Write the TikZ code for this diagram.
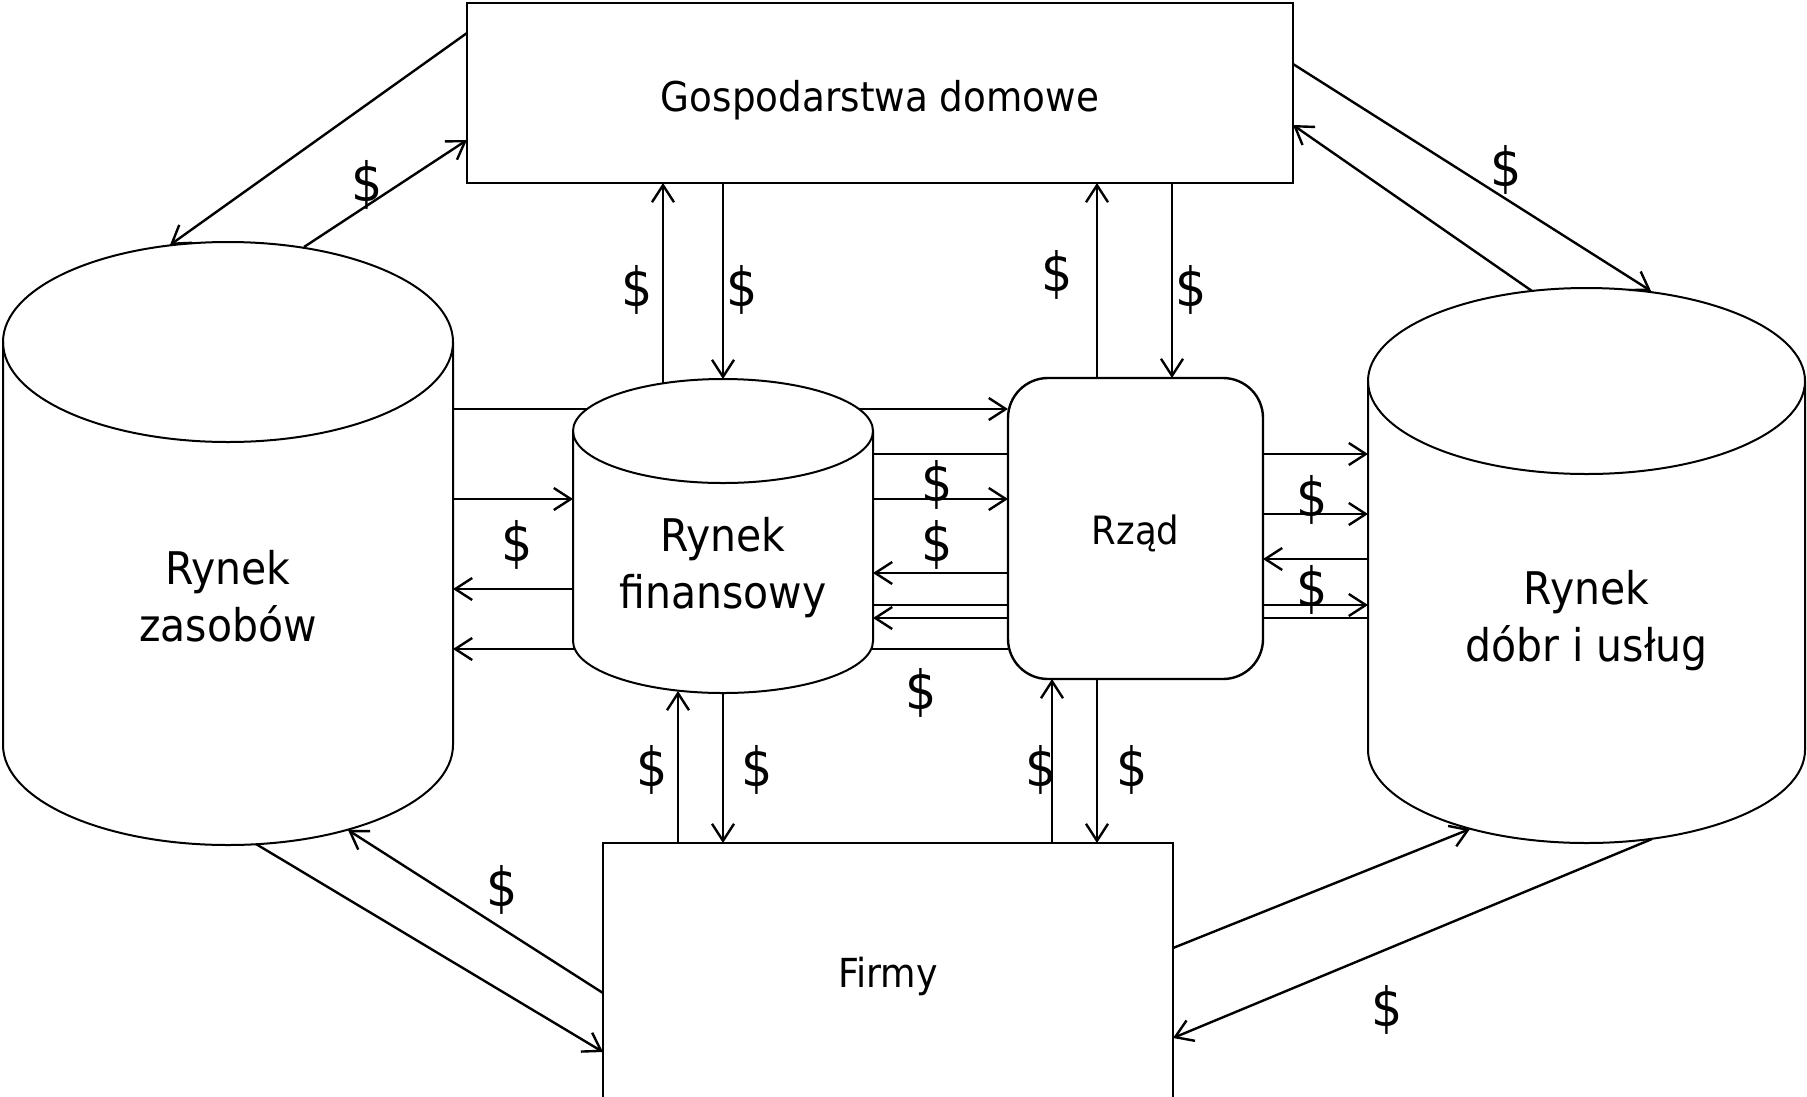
\documentclass[tikz,border=0pt]{standalone}
\usepackage{fontspec}
\setmainfont{DejaVu Sans}[FakeStretch=0.91]
\usetikzlibrary{arrows.meta}
\pgfdeclarelayer{back}
\pgfdeclarelayer{mid}
\pgfsetlayers{back,mid,main}
\tikzset{
  box/.style={draw, line width=2.4pt, fill=white, inner sep=0pt, outer sep=0pt},
  cylbody/.style={inner sep=0pt, outer sep=0pt},
  cyltext/.style={inner sep=0pt, outer sep=0pt, align=center, font=\fontsize{45}{57}\selectfont},
  cylline/.style={line width=2pt, fill=white},
  cylrim/.style={line width=2pt},
  flow/.style={line width=2.4pt, -{Straight Barb[length=17pt,width=22pt]}},
  dollar/.style={inner sep=0pt, outer sep=0pt, font=\fontsize{54}{60}\selectfont},
}
\begin{document}
\begin{tikzpicture}[x=1pt,y=1pt]
\useasboundingbox (0,0) rectangle (1807,-1096);
\clip (0,0) rectangle (1807,-1096);

% boxes
\node[box, minimum width=826pt, minimum height=180pt] (gosp) at (880,-93) {};
\node[box, minimum width=570pt, minimum height=262pt] (firmy) at (888,-974) {};
\node[box, rounded corners=40pt, minimum width=255pt, minimum height=301pt] (rzad) at (1135.5,-528.5) {};
\node[inner sep=0pt, font=\fontsize{41}{50}\selectfont] (gosptext) at ([yshift=-7pt]gosp.center) {Gospodarstwa domowe};
\node[inner sep=0pt, font=\fontsize{40}{50}\selectfont] (firmytext) at ([yshift=-2pt]firmy.center) {Firmy};
\node[inner sep=0pt, font=\fontsize{39}{50}\selectfont] (rzadtext) at ([yshift=-5pt]rzad.center) {Rząd};

% cylinder bodies
\node[cylbody, minimum width=450pt, minimum height=503pt] (zas) at (228,-593.5) {};
\node[cylbody, minimum width=300pt, minimum height=262pt] (fin) at (723,-562) {};
\node[cylbody, minimum width=437pt, minimum height=462pt] (dobr) at (1586.5,-612) {};
\node[cyltext] (zastext) at ([yshift=-3pt]zas.center) {Rynek\\zasobów};
\node[cyltext] (fintext) at ([yshift=-6pt]fin.center) {Rynek\\finansowy};
\node[cyltext] (dobrtext) at ([yshift=-9pt]dobr.center) {Rynek\\dóbr i usług};

% cylinder outlines
\begin{pgfonlayer}{mid}
\draw[cylline] (zas.north west) -- ([yshift=100pt]zas.south west)
  arc[start angle=180,end angle=360,x radius=225pt,y radius=100pt]
  -- (zas.north east) arc[start angle=0,end angle=180,x radius=225pt,y radius=100pt] -- cycle;
\draw[cylrim] (zas.north west) arc[start angle=180,end angle=360,x radius=225pt,y radius=100pt];
\draw[cylline] (fin.north west) -- ([yshift=52pt]fin.south west)
  arc[start angle=180,end angle=360,x radius=150pt,y radius=52pt]
  -- (fin.north east) arc[start angle=0,end angle=180,x radius=150pt,y radius=52pt] -- cycle;
\draw[cylrim] (fin.north west) arc[start angle=180,end angle=360,x radius=150pt,y radius=52pt];
\draw[cylline] (dobr.north west) -- ([yshift=93pt]dobr.south west)
  arc[start angle=180,end angle=360,x radius=218.5pt,y radius=93pt]
  -- (dobr.north east) arc[start angle=0,end angle=180,x radius=218.5pt,y radius=93pt] -- cycle;
\draw[cylrim] (dobr.north west) arc[start angle=180,end angle=360,x radius=218.5pt,y radius=93pt];
\end{pgfonlayer}

% connectors passing behind shapes
\begin{pgfonlayer}{back}
\draw[flow] ([yshift=184.5pt]zas.east) -- ([yshift=119.5pt]rzad.west);
\draw[flow] ([yshift=-120.5pt]rzad.west) -- ([yshift=-55.5pt]zas.east);
\draw[flow] ([yshift=108pt]fin.east) -- ([yshift=158pt]dobr.west);
\draw[flow] ([yshift=-43pt]fin.east) -- ([yshift=7pt]dobr.west);
\draw[flow] ([yshift=-6pt]dobr.west) -- ([yshift=-56pt]fin.east);
\end{pgfonlayer}

% horizontal connectors
\draw[flow] ([yshift=94.5pt]zas.east) -- ([yshift=63pt]fin.west);
\draw[flow] ([yshift=-27pt]fin.west) -- ([yshift=4.5pt]zas.east);
\draw[flow] ([yshift=63pt]fin.east) -- ([yshift=29.5pt]rzad.west);
\draw[flow] ([yshift=-44.5pt]rzad.west) -- ([yshift=-11pt]fin.east);
\draw[flow] ([yshift=14.5pt]rzad.east) -- ([yshift=98pt]dobr.west);
\draw[flow] ([yshift=53pt]dobr.west) -- ([yshift=-30.5pt]rzad.east);

% vertical connectors
\draw[flow] ([xshift=-60pt,yshift=48pt]fin.north) -- ([xshift=-217pt]gosp.south);
\draw[flow] ([xshift=-157pt]gosp.south) -- ([yshift=52pt]fin.north);
\draw[flow] ([xshift=-38.5pt]rzad.north) -- ([xshift=217pt]gosp.south);
\draw[flow] ([xshift=292pt]gosp.south) -- ([xshift=36.5pt]rzad.north);
\draw[flow] ([xshift=-210pt]firmy.north) -- ([xshift=-45pt,yshift=2pt]fin.south);
\draw[flow] (fin.south) -- ([xshift=-165pt]firmy.north);
\draw[flow] ([xshift=164pt]firmy.north) -- ([xshift=-83.5pt]rzad.south);
\draw[flow] ([xshift=-38.5pt]rzad.south) -- ([xshift=209pt]firmy.north);

% diagonal connectors
\draw[flow] ([yshift=60pt]gosp.west) -- ([xshift=-58pt,yshift=97pt]zas.north);
\draw[flow] ([xshift=76pt,yshift=95pt]zas.north) -- ([yshift=-47pt]gosp.west);
\draw[flow] ([yshift=29pt]gosp.east) -- ([xshift=64.5pt,yshift=90pt]dobr.north);
\draw[flow] ([xshift=-54.5pt,yshift=90pt]dobr.north) -- ([yshift=-32pt]gosp.east);
\draw[flow] ([yshift=-19pt]firmy.west) -- ([xshift=120pt,yshift=15pt]zas.south);
\draw[flow] ([xshift=28pt,yshift=1pt]zas.south) -- ([yshift=-78pt]firmy.west);
\draw[flow] ([yshift=26pt]firmy.east) -- ([xshift=-116.5pt,yshift=14pt]dobr.south);
\draw[flow] ([xshift=65.5pt,yshift=4pt]dobr.south) -- ([yshift=-64pt]firmy.east);

% dollar labels
\node[dollar] (d1) at (367,-185) {\$};
\node[dollar] (d2) at (637,-290) {\$};
\node[dollar] (d3) at (742,-290) {\$};
\node[dollar] (d4) at (1057,-275) {\$};
\node[dollar] (d5) at (1191,-290) {\$};
\node[dollar] (d6) at (1506,-170) {\$};
\node[dollar] (d7) at (517,-545) {\$};
\node[dollar] (d8) at (937,-485) {\$};
\node[dollar] (d9) at (937,-545) {\$};
\node[dollar] (d10) at (921,-693) {\$};
\node[dollar] (d11) at (1312,-500) {\$};
\node[dollar] (d12) at (1312,-590) {\$};
\node[dollar] (d13) at (652,-770) {\$};
\node[dollar] (d14) at (757,-770) {\$};
\node[dollar] (d15) at (1041,-770) {\$};
\node[dollar] (d16) at (1132,-770) {\$};
\node[dollar] (d17) at (502,-890) {\$};
\node[dollar] (d18) at (1387,-1010) {\$};
\end{tikzpicture}
\end{document}
